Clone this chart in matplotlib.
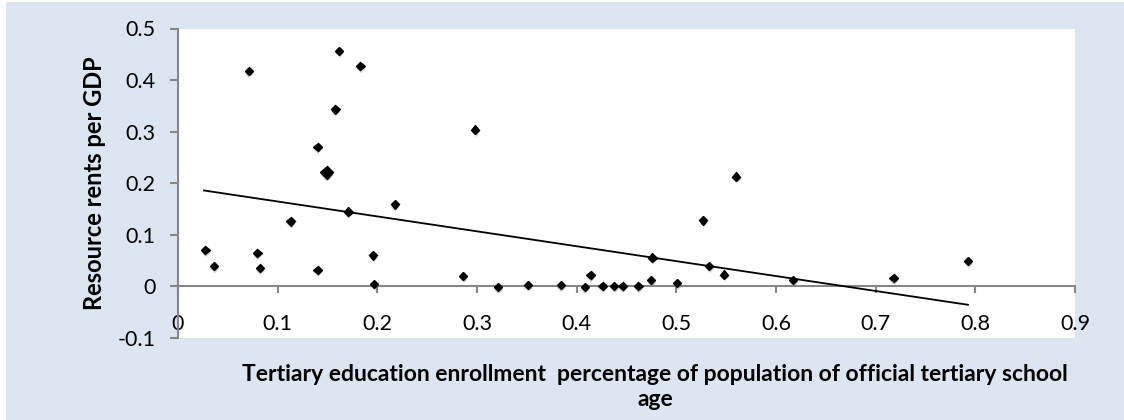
import matplotlib.pyplot as plt
import matplotlib.patheffects as pe
from matplotlib.patches import Rectangle

plt.rcParams['font.family'] = ['Lato', 'DejaVu Sans']

# enrollment share vs resource rents per GDP
enroll = [0.0275, 0.036, 0.071, 0.0797, 0.082, 0.113, 0.140, 0.140, 0.158, 0.1616,
          0.171, 0.183, 0.196, 0.1967, 0.2174, 0.286, 0.298, 0.321, 0.351, 0.384,
          0.408, 0.414, 0.426, 0.4375, 0.446, 0.462, 0.4746, 0.476, 0.5007, 0.527,
          0.533, 0.548, 0.560, 0.617, 0.718, 0.793]
rents = [0.071, 0.039, 0.418, 0.065, 0.035, 0.126, 0.271, 0.0325, 0.343, 0.457,
         0.145, 0.427, 0.060, 0.005, 0.159, 0.020, 0.304, -0.001, 0.003, 0.003,
         -0.001, 0.022, 0.001, 0.001, 0.001, 0.001, 0.012, 0.056, 0.0066, 0.128,
         0.040, 0.023, 0.213, 0.0124, 0.016, 0.049]
# overlapping points drawn as the bigger diamond
dup_enroll = [0.149]
dup_rents = [0.221]
# linear trend line end points
trend_x = [0.026, 0.7926]
trend_y = [0.186, -0.0356]

xticks = [0, 0.1, 0.2, 0.3, 0.4, 0.5, 0.6, 0.7, 0.8, 0.9]
yticks = [-0.1, 0, 0.1, 0.2, 0.3, 0.4, 0.5]

fig = plt.figure(figsize=[11.24, 4.2], dpi=100)
fig.patch.set_facecolor('white')
fig.patches.append(Rectangle((6 / 1124, 0), 1, 1 - 2 / 420, transform=fig.transFigure,
                             facecolor='#dce6f2', edgecolor='none', zorder=-10))

ax = fig.add_axes([178 / 1124, 1 - 338 / 420, (1075 - 178) / 1124, (338 - 28.5) / 420])
ax.set_facecolor('white')
ax.set_xlim(0, 0.9)
ax.set_ylim(-0.1, 0.5)

grey = '#868686'
for s in ['top', 'right']:
    ax.spines[s].set_visible(False)
ax.spines['bottom'].set_position(('data', 0))
for s in ['bottom', 'left']:
    ax.spines[s].set_color(grey)
    ax.spines[s].set_linewidth(1.5)

ax.set_xticks(xticks)
ax.set_xticklabels(['0' if v == 0 else f'{v:g}' for v in xticks])
ax.set_yticks(yticks)
ax.set_yticklabels(['0' if v == 0 else f'{v:g}' for v in yticks])
ax.tick_params(axis='x', direction='out', length=5, width=1.5, color=grey, pad=15, labelsize=15.5)
ax.tick_params(axis='y', direction='out', length=6, width=1.5, color=grey, pad=10, labelsize=15.5)

shadow = [pe.SimplePatchShadow(offset=(0.5, -2), shadow_rgbFace='#777777', alpha=0.35), pe.Normal()]
ax.plot(trend_x, trend_y, color='black', linewidth=1.3, zorder=3)
ax.plot(enroll, rents, linestyle='none', marker='D', markersize=4.2, color='black',
        path_effects=shadow, zorder=4)
ax.plot(dup_enroll, dup_rents, linestyle='none', marker='D', markersize=6.5, color='black',
        path_effects=shadow, zorder=4)

fig.text(94 / 1124, 1 - 183 / 420, 'Resource rents per GDP', rotation=90, ha='center', va='center',
         fontsize=17, fontweight='bold')
fig.text(655 / 1124, 1 - 387 / 420,
         'Tertiary education enrollment  percentage of population of official tertiary school\nage',
         ha='center', va='center', fontsize=16.5, fontweight='bold', linespacing=1.25)

plt.savefig('out.png', dpi=100)
